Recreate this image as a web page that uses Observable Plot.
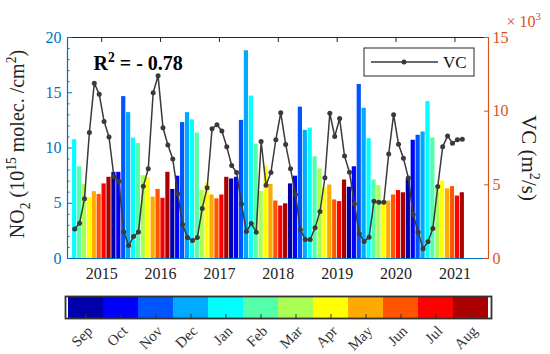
<!DOCTYPE html>
<html><head><meta charset="utf-8">
<script src="https://cdn.jsdelivr.net/npm/d3@7"></script>
<script src="https://cdn.jsdelivr.net/npm/@observablehq/plot@0.6"></script>
<style>
html,body{margin:0;padding:0;background:#fff;}
#chart{position:relative;width:550px;height:354px;overflow:hidden;background:#fff;}
#chart svg{display:block;}
</style></head><body><div id="chart"></div>
<script>
// colour-bar categories (Sep..Aug) and their jet colours
const months = ["Sep","Oct","Nov","Dec","Jan","Feb","Mar","Apr","May","Jun","Jul","Aug"];
const monthColors = ["#0000AA","#0000FF","#0055FF","#00AAFF","#00FFFF","#55FFAA","#AAFF55","#FFFF00","#FFAA00","#FF5500","#FF0000","#AA0000"];
const calendarMonths = ["Jan","Feb","Mar","Apr","May","Jun","Jul","Aug","Sep","Oct","Nov","Dec"];
const yearLabels = [2015,2016,2017,2018,2019,2020,2021];
const startYear = 2015;
// monthly NO2 column (10^15 molec./cm2), Jan 2015 .. Aug 2021
const no2 = [
  10.75, 8.3, 6.7, 5.5, 6.05, 5.8, 6.75, 7.35, 7.8, 7.8, 14.65, 13.2,
  10.9, 10.4, 7.5, 7.3, 5.55, 6.25, 5.45, 7.8, 6.25, 7.45, 12.3, 13.2,
  12.55, 11.35, 6.15, 6.8, 5.75, 5.4, 5.75, 7.35, 7.2, 7.35, 12.5, 18.8,
  14.7, 10.35, 6.05, 8.35, 6.7, 5.2, 4.75, 4.95, 6.75, 7.45, 13.7, 11.6,
  11.8, 9.2, 8.1, 6.4, 6.65, 5.3, 5.15, 7.1, 6.45, 8.3, 15.75, 13.6,
  10.85, 7.1, 6.6, 5.05, 5.2, 5.75, 6.15, 5.95, 7.2, 10.7, 11.15, 11.45,
  14.2, 10.9, 6.6, 7.0, 6.3, 6.5, 5.65, 5.95
];
// monthly ventilation coefficient VC (x10^3 m2/s), Jan 2015 .. Aug 2021
const vc = [
  2.0, 2.4, 4.05, 8.55, 11.9, 11.15, 9.3, 8.24, 5.55, 5.25, 1.8, 0.88,
  1.5, 1.8, 4.9, 6.1, 11.25, 12.4, 8.87, 7.7, 6.75, 4.4, 2.3, 1.42,
  1.22, 1.42, 3.4, 4.8, 8.8, 9.08, 8.65, 7.58, 6.31, 5.84, 3.7, 1.83,
  2.38, 1.79, 7.94, 4.98, 5.84, 8.06, 9.9, 7.74, 6.09, 4.34, 1.95, 1.29,
  1.29, 2.08, 3.19, 5.48, 9.86, 8.28, 9.5, 6.95, 5.86, 3.71, 1.68, 1.15,
  1.45, 3.89, 3.82, 3.82, 7.1, 9.76, 7.76, 6.81, 5.47, 2.98, 1.79, 0.66,
  1.13, 2.04, 4.89, 7.58, 8.32, 7.83, 8.06, 8.09
];
const no2Ticks = [0,5,10,15,20];
const no2Minor = [1,2,3,4,6,7,8,9,11,12,13,14,16,17,18,19];
const vcTicks = [0,5,10,15];
const r2Label = "R2 = - 0.78";
const leftTitle = "NO2 (1015 molec. /cm2)";
const rightTitle = "VC (m2/s)";
const expLabel = "× 103";
const legendLabel = "VC";

const xDomain = [2014.92, 2022.07];
const yDomain = [0, 20];
const vcMax = 15;
const k = yDomain[1] / vcMax;
const blue = "#0072BD", orange = "#D95319", dark = "#262626", lineCol = "#3a3a3a";
const font = "'Liberation Serif', 'Times New Roman', serif";

const rows = no2.map((v, i) => {
  const yr = startYear + Math.floor(i / 12), m = i % 12;
  const t0 = yr + m / 12;
  return {t0, t1: t0 + 1/12, t: t0 + 1/24, month: calendarMonths[m], no2: v, vc: vc[i]};
});
const yearTicks = yearLabels.map(y => y + 0.5);

const main = Plot.plot({
  width: 550, height: 290,
  marginTop: 37, marginBottom: 32, marginLeft: 67, marginRight: 62,
  x: {domain: xDomain, label: null},
  y: {domain: yDomain, label: null},
  color: {domain: months, range: monthColors},
  style: {fontFamily: font, fontSize: "16px", background: "white", color: "black"},
  marks: [
    Plot.rect(rows, {x1: "t0", x2: "t1", y1: d => 0, y2: "no2", fill: "month", insetLeft: 0.35, insetRight: 0.35}),
    Plot.line(rows, {x: "t", y: d => d.vc * k, stroke: lineCol, strokeWidth: 1.5}),
    Plot.dot(rows, {x: "t", y: d => d.vc * k, r: 2.5, fill: lineCol, stroke: "none"}),
    Plot.ruleY([yDomain[1]], {stroke: dark, strokeWidth: 1}),
    Plot.ruleY([yDomain[0]], {stroke: blue, strokeWidth: 1.2}),
    Plot.ruleX([xDomain[0]], {stroke: blue, strokeWidth: 1.2}),
    Plot.ruleX([xDomain[1]], {stroke: orange, strokeWidth: 1.2}),
    Plot.axisX({anchor: "top", ticks: yearTicks, tickSize: 4, dy: 4, fill: "none", stroke: dark, label: null}),
    Plot.axisX({anchor: "bottom", ticks: yearTicks, tickFormat: d => String(Math.floor(d)), tickSize: 0, tickPadding: 9, fill: "#222", stroke: "none", label: null, fontSize: 16}),
    Plot.axisY({anchor: "left", ticks: no2Ticks, tickSize: 5, dx: 5, fill: "none", stroke: blue, label: null}),
    Plot.axisY({anchor: "left", ticks: no2Minor, tickSize: 2.5, dx: 2.5, fill: "none", stroke: blue, label: null}),
    Plot.axisY({anchor: "left", ticks: no2Ticks, tickFormat: d => String(d), tickSize: 0, tickPadding: 6, fill: blue, stroke: "none", label: null, fontSize: 16}),
    Plot.axisY({anchor: "right", ticks: vcTicks.map(v => v * k), tickSize: 5, dx: -5, fill: "none", stroke: orange, label: null}),
    Plot.axisY({anchor: "right", ticks: vcTicks.map(v => v * k), tickFormat: d => String(Math.round(d / k)), tickSize: 0, tickPadding: 4, fill: orange, stroke: "none", label: null, fontSize: 16}),
    Plot.text([leftTitle], {frameAnchor: "left", textAnchor: "middle", rotate: -90, dx: -50, dy: -4, fontSize: 20, fill: "#222"}),
    Plot.text([rightTitle], {frameAnchor: "right", textAnchor: "middle", rotate: 90, dx: 40, dy: 10, fontSize: 21, fill: "#222"}),
    Plot.text([r2Label], {frameAnchor: "top-left", lineAnchor: "middle", dx: 26, dy: 26, textAnchor: "start", fontSize: 20, fontWeight: "bold", fill: "black"}),
    Plot.text([expLabel], {frameAnchor: "top-right", lineAnchor: "middle", dx: 18, dy: -16, textAnchor: "start", fontSize: 16, fill: orange})
  ]
});

function rich(svg, plain, parts, size) {
  d3.select(svg).selectAll("text").filter(function() { return this.textContent === plain; }).each(function() {
    const t = d3.select(this);
    t.text(null);
    let shift = 0;
    parts.forEach(([s, kind]) => {
      const target = kind === "sup" ? -0.4 * size : kind === "sub" ? 0.28 * size : 0;
      const ts = t.append("tspan").text(s);
      if (target - shift !== 0) ts.attr("dy", target - shift);
      if (kind) ts.attr("font-size", 0.68 * size);
      shift = target;
    });
  });
}
rich(main, leftTitle, [["NO"], ["2", "sub"], [" (10"], ["15", "sup"], [" molec. /cm"], ["2", "sup"], [")"]], 20);
rich(main, rightTitle, [["VC (m"], ["2", "sup"], ["/s)"]], 21);
rich(main, expLabel, [["× 10"], ["3", "sup"]], 16);
rich(main, r2Label, [["R"], ["2", "sup"], [" = - 0.78"]], 20);

// legend box
const lg = d3.select(main).append("g");
lg.append("rect").attr("x", 364).attr("y", 48).attr("width", 110).attr("height", 28).attr("fill", "white").attr("stroke", dark).attr("stroke-width", 1);
lg.append("line").attr("x1", 371).attr("x2", 438).attr("y1", 62).attr("y2", 62).attr("stroke", lineCol).attr("stroke-width", 1.5);
lg.append("circle").attr("cx", 404).attr("cy", 62).attr("r", 2.5).attr("fill", lineCol);
lg.append("text").attr("x", 443).attr("y", 68).attr("text-anchor", "start").attr("font-size", 17).attr("fill", "#111").text(legendLabel);

const cbar = Plot.plot({
  width: 550, height: 64,
  marginTop: 6, marginBottom: 36, marginLeft: 65, marginRight: 59,
  x: {type: "band", domain: months, padding: 0, label: null},
  color: {domain: months, range: monthColors},
  style: {fontFamily: font, fontSize: "15px", background: "white", color: "#333"},
  marks: [
    Plot.cell(months, {x: d => d, fill: d => d}),
    Plot.frame({stroke: "#333", strokeWidth: 1.8}),
    Plot.axisX({tickSize: 4, dy: -4, fill: "none", stroke: "#333", label: null}),
    Plot.axisX({tickSize: 0, tickPadding: 10, dx: 4, tickRotate: -45, fill: "#333", stroke: "none", label: null, fontSize: 15})
  ]
});

const root = document.getElementById("chart");
root.appendChild(main);
root.appendChild(cbar);
</script></body></html>
